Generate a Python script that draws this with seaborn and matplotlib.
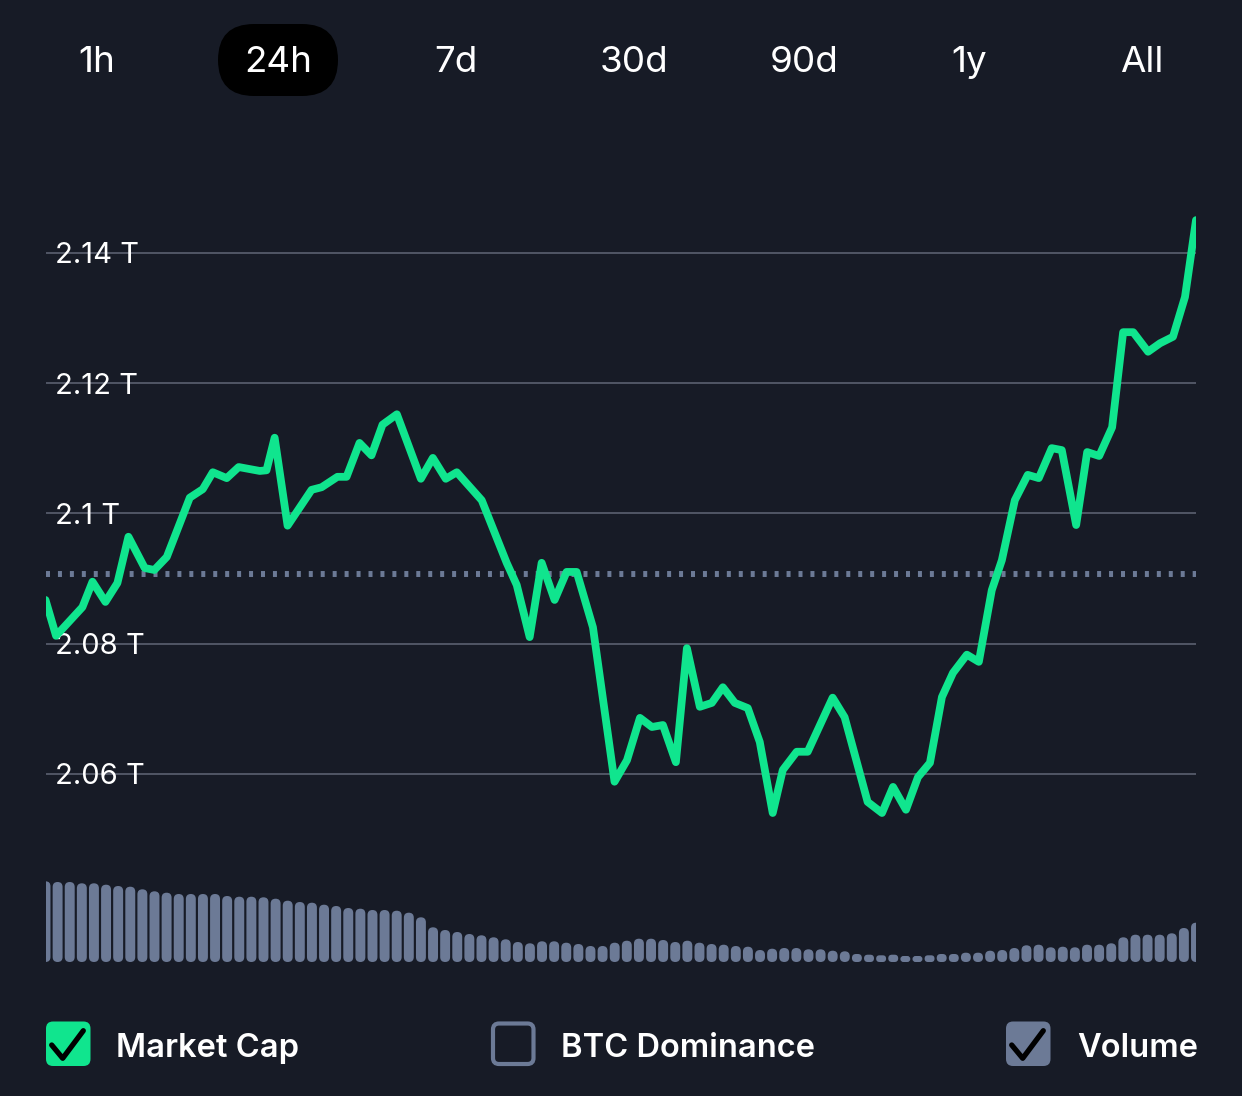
import matplotlib
matplotlib.use("Agg")
import matplotlib.pyplot as plt
from matplotlib.patches import FancyBboxPatch
from matplotlib.lines import Line2D
from matplotlib.ticker import FuncFormatter
import seaborn as sns

# market cap (trillion USD) over the last 24 hours
hours = [0.0, 0.22, 0.77, 0.98, 1.25, 1.50, 1.73, 2.07, 2.27, 2.53,
         3.01, 3.28, 3.49, 3.78, 4.03, 4.47, 4.61, 4.78, 5.05, 5.55,
         5.76, 6.09, 6.28, 6.55, 6.80, 7.03, 7.33, 7.83, 8.08, 8.35,
         8.58, 9.10, 9.62, 9.83, 10.10, 10.35, 10.62, 10.87, 11.08, 11.42,
         11.87, 12.13, 12.40, 12.65, 12.88, 13.15, 13.38, 13.65, 13.90, 14.13,
         14.38, 14.65, 14.90, 15.17, 15.38, 15.67, 15.90, 16.42, 16.67, 17.15,
         17.45, 17.68, 17.95, 18.20, 18.45, 18.70, 18.93, 19.22, 19.47, 19.74,
         19.95, 20.22, 20.49, 20.72, 20.99, 21.20, 21.50, 21.73, 21.98, 22.25,
         22.48, 22.69, 23.00, 23.25, 23.52, 23.77, 24.00]
market_cap = [2.0867, 2.0812, 2.0856, 2.0895, 2.0864, 2.0893, 2.0964, 2.0916, 2.0913, 2.0933,
              2.1024, 2.1037, 2.1063, 2.1054, 2.1071, 2.1065, 2.1066, 2.1116, 2.0981, 2.1036,
              2.1040, 2.1056, 2.1056, 2.1108, 2.1089, 2.1136, 2.1152, 2.1053, 2.1085, 2.1053,
              2.1063, 2.1020, 2.0924, 2.0890, 2.0810, 2.0924, 2.0867, 2.0910, 2.0910, 2.0825,
              2.0588, 2.0621, 2.0686, 2.0672, 2.0675, 2.0618, 2.0793, 2.0703, 2.0709, 2.0733,
              2.0709, 2.0701, 2.0649, 2.0540, 2.0606, 2.0634, 2.0634, 2.0717, 2.0687, 2.0557,
              2.0540, 2.0580, 2.0545, 2.0595, 2.0617, 2.0718, 2.0755, 2.0783, 2.0772, 2.0882,
              2.0928, 2.1020, 2.1059, 2.1054, 2.1100, 2.1097, 2.0982, 2.1094, 2.1088, 2.1132,
              2.1278, 2.1278, 2.1248, 2.1261, 2.1271, 2.1332, 2.1450]
open_level = 2.0907

# volume (relative units), one bar per 15 minutes
volume = [80.7, 80.0, 80.0, 78.7, 78.7, 77.3, 76.0, 75.3, 72.7, 70.7,
          69.3, 68.0, 68.0, 68.0, 68.0, 66.0, 65.3, 65.3, 64.7, 63.3,
          61.3, 60.0, 59.3, 57.3, 56.0, 54.0, 53.3, 52.0, 52.0, 51.3,
          49.3, 44.7, 34.7, 32.0, 30.0, 28.0, 26.7, 24.7, 22.7, 20.0,
          18.7, 20.7, 20.7, 19.3, 18.0, 16.0, 16.0, 19.3, 21.3, 23.3,
          23.3, 22.0, 20.0, 21.3, 19.3, 18.0, 17.3, 16.0, 15.3, 12.0,
          13.3, 14.0, 14.0, 12.7, 12.7, 11.3, 10.7, 8.0, 7.3, 6.7,
          7.3, 6.0, 6.0, 6.7, 8.0, 8.0, 9.3, 9.3, 11.3, 12.0,
          14.0, 16.7, 17.3, 14.7, 15.3, 14.7, 17.3, 17.3, 18.7, 24.7,
          27.3, 27.3, 27.3, 28.7, 34.0, 39.3]

ranges = ["1h", "24h", "7d", "30d", "90d", "1y", "All"]
selected_range = "24h"
toggles = ["Market Cap", "BTC Dominance", "Volume"]

BG = "#171b26"
GREEN = "#10e58e"
GREY = "#6c7a96"
GRID = "#5b6070"

W, H = 1242, 1096
sns.set_theme(style="dark")
plt.rcParams["font.family"] = ["Inter", "DejaVu Sans"]

fig = plt.figure(figsize=(W / 100, H / 100), dpi=100, facecolor=BG)


def fbox(left, top, right, bottom):
    # figure fraction rectangle from pixel edges
    return [left / W, 1 - bottom / H, (right - left) / W, (bottom - top) / H]


def inch(x, y):
    return x / 100, (H - y) / 100


# price chart
ax = fig.add_axes(fbox(45.5, 200, 1196, 830))
ax.set_facecolor(BG)
ax.axhline(open_level, color=GREY, lw=4.3, ls=(0, (0.67, 1.33)),
           dash_capstyle="butt", zorder=2)
sns.lineplot(x=hours, y=market_cap, ax=ax, color=GREEN, linewidth=5.6,
             solid_joinstyle="round", solid_capstyle="round", zorder=3)
ax.set_xlim(0, 24)
ax.set_ylim(2.14 - 577.3 / 6515, 2.14 + 52.7 / 6515)
ax.set_yticks([2.06, 2.08, 2.10, 2.12, 2.14])
ax.yaxis.set_major_formatter(FuncFormatter(lambda v, p: f"{v:g} T"))
ax.set_xticks([])
ax.grid(axis="y", color=GRID, linewidth=1.2)
ax.grid(axis="x", visible=False)
ax.tick_params(axis="y", length=0, pad=-7, labelcolor="white", labelsize=21)
for lab in ax.get_yticklabels():
    lab.set_horizontalalignment("left")
    lab.set_zorder(4)
ax.set_xlabel("")
ax.set_ylabel("")
for s in ax.spines.values():
    s.set_visible(False)

# volume bars
axv = fig.add_axes(fbox(45.5, 870, 1196, 962))
axv.set_facecolor(BG)
idx = list(range(len(volume)))
sns.barplot(x=idx, y=volume, ax=axv, color=GREY, saturation=1, width=0.82,
            linewidth=0)
axv.set_xlim(0, len(volume) - 1)
axv.set_ylim(0, 92)
fig.canvas.draw()
bb = axv.get_window_extent()
x_per_px = (len(volume) - 1) / bb.width
y_per_px = 92 / bb.height
aspect = y_per_px / x_per_px
for p in list(axv.patches):
    x0, y0, w, h = p.get_x(), p.get_y(), p.get_width(), p.get_height()
    r = min(w / 2, h / aspect / 2)
    axv.add_patch(FancyBboxPatch((x0, y0), w, h,
                                 boxstyle=f"round,pad=0,rounding_size={r}",
                                 mutation_aspect=aspect, fc=GREY, ec="none"))
    p.remove()
axv.set_xticks([])
axv.set_yticks([])
axv.set_xlabel("")
axv.set_ylabel("")
axv.grid(False)
for s in axv.spines.values():
    s.set_visible(False)

# range tabs
tab_x = [97, 278, 456, 634, 804, 969, 1142]
for name, x in zip(ranges, tab_x):
    if name == selected_range:
        fig.patches.append(FancyBboxPatch(inch(218, 96), 1.20, 0.72,
                                          boxstyle="round,pad=0,rounding_size=0.36",
                                          transform=fig.dpi_scale_trans,
                                          fc="black", ec="none"))
    fig.text(x / W, 1 - 72 / H, name, color="white", fontsize=26.5,
             ha="center", va="baseline")

# toggles
boxes = [(46, True, GREEN), (491, False, GREY), (1006, True, GREY)]
text_x = [116, 561, 1077]
for (bx, checked, col), label, tx in zip(boxes, toggles, text_x):
    if checked:
        fig.patches.append(FancyBboxPatch(inch(bx, 1066), 0.445, 0.445,
                                          boxstyle="round,pad=0,rounding_size=0.07",
                                          transform=fig.dpi_scale_trans,
                                          fc=col, ec="none"))
        xs, ys = zip(*[inch(bx + 5.7, 1045), inch(bx + 16.7, 1058.3),
                       inch(bx + 37.3, 1030.7)])
        fig.add_artist(Line2D(xs, ys, transform=fig.dpi_scale_trans,
                              color="black", lw=3.8, solid_capstyle="round",
                              solid_joinstyle="round"))
    else:
        fig.patches.append(FancyBboxPatch(inch(bx + 2, 1064), 0.405, 0.405,
                                          boxstyle="round,pad=0,rounding_size=0.06",
                                          transform=fig.dpi_scale_trans,
                                          fc="none", ec=col, lw=3))
    fig.text(tx / W, 1 - 1057 / H, label, color="white", fontsize=23.5,
             fontweight="semibold", ha="left", va="baseline")

fig.savefig("out.png", dpi=100, facecolor=BG)
